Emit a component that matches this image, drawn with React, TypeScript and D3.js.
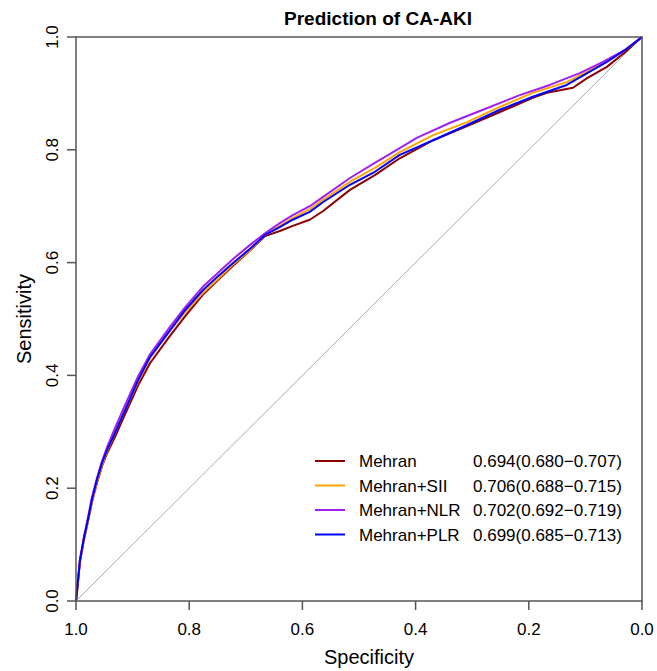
import React from "react";
import * as d3 from "d3";

const W = 657;
const H = 671;

// Specificity / sensitivity values
const mehranSpec = [1, 0.998, 0.993, 0.986, 0.979, 0.972, 0.963, 0.954, 0.945, 0.931, 0.913, 0.89, 0.869, 0.834, 0.807, 0.776, 0.749, 0.723, 0.693, 0.666, 0.64, 0.617, 0.587, 0.564, 0.516, 0.472, 0.428, 0.369, 0.309, 0.251, 0.193, 0.168, 0.122, 0.097, 0.062, 0.03, 0];
const mehranSens = [0, 0.018, 0.069, 0.108, 0.14, 0.174, 0.209, 0.239, 0.262, 0.291, 0.332, 0.383, 0.422, 0.47, 0.505, 0.543, 0.569, 0.594, 0.621, 0.647, 0.656, 0.665, 0.676, 0.691, 0.729, 0.755, 0.785, 0.817, 0.842, 0.867, 0.892, 0.901, 0.91, 0.927, 0.947, 0.973, 1];

const siiSpec = [1, 0.998, 0.993, 0.986, 0.979, 0.972, 0.963, 0.954, 0.945, 0.931, 0.913, 0.89, 0.869, 0.834, 0.807, 0.776, 0.749, 0.723, 0.693, 0.666, 0.64, 0.617, 0.587, 0.564, 0.516, 0.472, 0.428, 0.369, 0.309, 0.251, 0.193, 0.133, 0.074, 0.03, 0];
const siiSens = [0, 0.02, 0.073, 0.11, 0.142, 0.176, 0.211, 0.241, 0.266, 0.298, 0.339, 0.39, 0.431, 0.479, 0.512, 0.546, 0.571, 0.596, 0.622, 0.649, 0.665, 0.679, 0.695, 0.711, 0.743, 0.768, 0.796, 0.826, 0.849, 0.876, 0.901, 0.92, 0.95, 0.977, 1];

const nlrSpec = [1, 0.998, 0.993, 0.986, 0.979, 0.972, 0.963, 0.954, 0.945, 0.931, 0.913, 0.89, 0.869, 0.834, 0.807, 0.776, 0.749, 0.723, 0.693, 0.666, 0.64, 0.617, 0.587, 0.564, 0.516, 0.472, 0.428, 0.398, 0.339, 0.281, 0.216, 0.163, 0.11, 0.069, 0.03, 0];
const nlrSens = [0, 0.02, 0.073, 0.113, 0.147, 0.183, 0.218, 0.248, 0.273, 0.307, 0.348, 0.399, 0.438, 0.486, 0.521, 0.557, 0.582, 0.606, 0.631, 0.652, 0.67, 0.684, 0.7, 0.716, 0.75, 0.777, 0.803, 0.821, 0.848, 0.871, 0.897, 0.915, 0.936, 0.956, 0.977, 1];

const plrSpec = [1, 0.998, 0.993, 0.986, 0.979, 0.972, 0.963, 0.954, 0.945, 0.931, 0.913, 0.89, 0.869, 0.834, 0.807, 0.776, 0.749, 0.723, 0.693, 0.666, 0.64, 0.617, 0.587, 0.564, 0.516, 0.472, 0.428, 0.369, 0.309, 0.251, 0.193, 0.133, 0.062, 0.03, 0];
const plrSens = [0, 0.02, 0.073, 0.112, 0.144, 0.179, 0.215, 0.245, 0.268, 0.298, 0.339, 0.392, 0.433, 0.48, 0.516, 0.551, 0.576, 0.599, 0.624, 0.649, 0.663, 0.676, 0.69, 0.707, 0.738, 0.761, 0.791, 0.817, 0.844, 0.871, 0.894, 0.915, 0.956, 0.977, 1];

const seriesNames = ["Mehran", "Mehran+SII", "Mehran+NLR", "Mehran+PLR"];
const seriesAUC = ["0.694(0.680\u22120.707)", "0.706(0.688\u22120.715)", "0.702(0.692\u22120.719)", "0.699(0.685\u22120.713)"];
const seriesColors = ["#8B0000", "#FFA500", "#A020F0", "#0000FF"];
const seriesSpec = [mehranSpec, siiSpec, nlrSpec, plrSpec];
const seriesSens = [mehranSens, siiSens, nlrSens, plrSens];

const ticks = [0, 0.2, 0.4, 0.6, 0.8, 1.0];

const FONT = "'Liberation Sans', Arial, Helvetica, sans-serif";

export default function App() {
  const left = 76, right = 642, top = 37, bottom = 601;
  const x = d3.scaleLinear().domain([1, 0]).range([left, right]);
  const y = d3.scaleLinear().domain([0, 1]).range([bottom, top]);
  const axisColor = "#555";

  const lineGen = d3
    .line<[number, number]>()
    .x((d) => x(d[0]))
    .y((d) => y(d[1]))
    .curve(d3.curveLinear);

  const legendX1 = 315, legendX2 = 345, legendText = 359, legendVal = 473;
  const legendY = [461, 485.5, 510, 534.5];

  return (
    <svg
      width={W}
      height={H}
      style={{ position: "absolute", left: 0, top: 0, background: "#fff" }}
      fontFamily={FONT}
    >
      <rect x={0} y={0} width={W} height={H} fill="#fff" />
      {/* diagonal reference */}
      <line x1={x(1)} y1={y(0)} x2={x(0)} y2={y(1)} stroke="#aaa" strokeWidth={1} />

      {/* ROC curves */}
      {seriesNames.map((name, i) => {
        const pts: [number, number][] = seriesSpec[i].map((s, j) => [s, seriesSens[i][j]]);
        return (
          <path
            key={name}
            d={lineGen(pts) || ""}
            fill="none"
            stroke={seriesColors[i]}
            strokeWidth={2}
            strokeLinejoin="round"
          />
        );
      })}

      {/* box */}
      <rect x={left} y={top} width={right - left} height={bottom - top} fill="none" stroke={axisColor} strokeWidth={1.5} />

      {/* x axis ticks */}
      {ticks.map((t) => (
        <g key={"x" + t}>
          <line x1={x(t)} x2={x(t)} y1={bottom} y2={bottom + 9} stroke={axisColor} strokeWidth={1.5} />
          <text x={x(t)} y={635} textAnchor="middle" fontSize={17} fill="#000">
            {t.toFixed(1)}
          </text>
        </g>
      ))}
      {/* y axis ticks */}
      {ticks.map((t) => (
        <g key={"y" + t}>
          <line x1={left - 9} x2={left} y1={y(t)} y2={y(t)} stroke={axisColor} strokeWidth={1.5} />
          <text
            transform={`translate(58,${y(t)}) rotate(-90)`}
            textAnchor="middle"
            fontSize={17}
            fill="#000"
          >
            {t.toFixed(1)}
          </text>
        </g>
      ))}

      {/* axis titles */}
      <text x={369} y={664} textAnchor="middle" fontSize={20} fill="#000">
        Specificity
      </text>
      <text transform={`translate(31,319) rotate(-90)`} textAnchor="middle" fontSize={20} fill="#000">
        Sensitivity
      </text>

      {/* title */}
      <text x={378} y={25} textAnchor="middle" fontSize={19} fontWeight="bold" fill="#000">
        Prediction of CA-AKI
      </text>

      {/* legend */}
      {seriesNames.map((name, i) => (
        <g key={"leg" + name}>
          <line x1={legendX1} x2={legendX2} y1={legendY[i]} y2={legendY[i]} stroke={seriesColors[i]} strokeWidth={2} />
          <text x={legendText} y={legendY[i] + 6} fontSize={17} fill="#000">
            {name}
          </text>
          <text x={legendVal} y={legendY[i] + 6} fontSize={17} fill="#000">
            {seriesAUC[i]}
          </text>
        </g>
      ))}
    </svg>
  );
}
